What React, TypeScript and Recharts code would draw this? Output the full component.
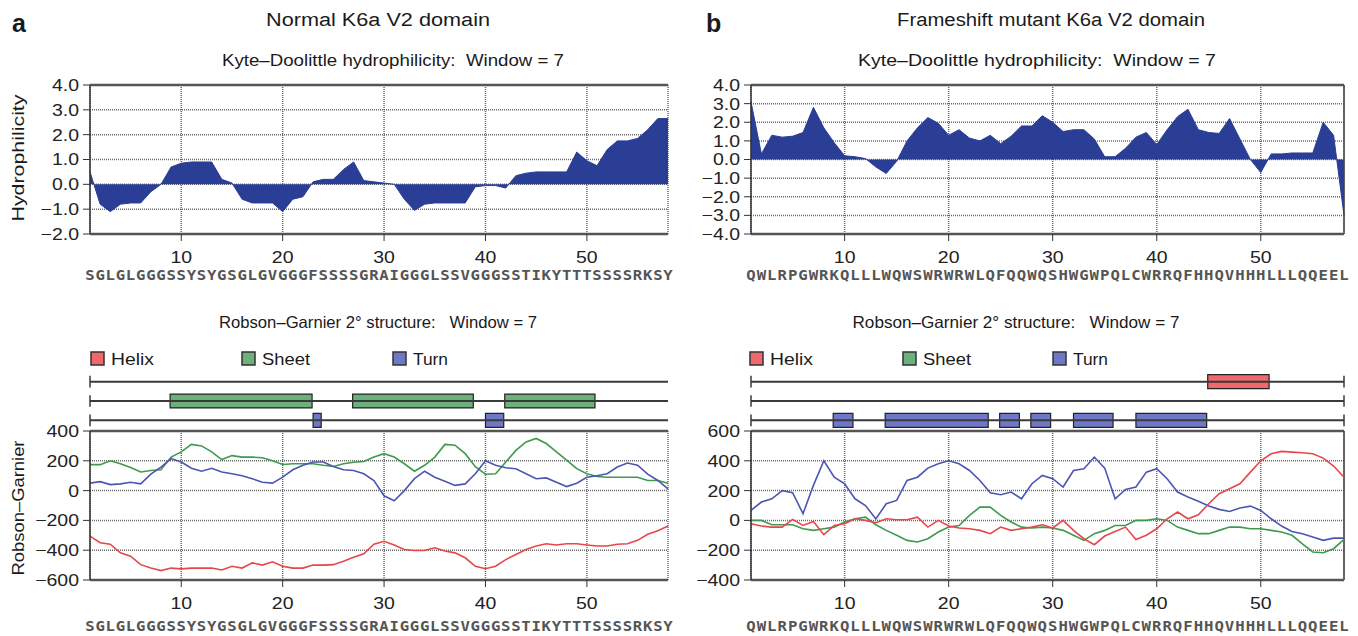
import React from "react";
import {
  AreaChart, Area, LineChart, Line, ComposedChart,
  XAxis, YAxis, CartesianGrid, ReferenceLine, ReferenceArea,
} from "recharts";

const residues = Array.from({ length: 58 }, (_, i) => i + 1);
const positionTicks = [10, 20, 30, 40, 50];

const normalSeq = "SGLGLGGGSSYSYGSGLGVGGGFSSSSGRAIGGGLSSVGGGSSTIKYTTTSSSSRKSY";
const mutantSeq = "QWLRPGWRKQLLLWQWSWRWRWLQFQQWQSHWGWPQLCWRRQFHHQVHHHLLLQQEEL";

// Kyte-Doolittle hydrophilicity, one value per residue
const normalHydro = [0.5, -0.8, -1.1, -0.8, -0.75, -0.75, -0.3, 0.0, 0.7, 0.85, 0.9, 0.9, 0.9, 0.2, 0.05, -0.6, -0.75, -0.75, -0.75, -1.1, -0.6, -0.5, 0.1, 0.2, 0.2, 0.6, 0.9, 0.15, 0.1, 0.05, 0, -0.6, -1.05, -0.8, -0.75, -0.75, -0.75, -0.75, -0.1, -0.05, -0.05, -0.15, 0.35, 0.45, 0.5, 0.5, 0.5, 0.5, 1.3, 0.95, 0.75, 1.4, 1.75, 1.75, 1.85, 2.2, 2.65, 2.65];
const mutantHydro = [3.1, 0.3, 1.3, 1.2, 1.25, 1.45, 2.8, 1.7, 0.9, 0.2, 0.15, 0.05, -0.4, -0.75, -0.1, 1.0, 1.7, 2.25, 1.95, 1.3, 1.6, 1.15, 1.0, 1.3, 0.85, 1.25, 1.8, 1.8, 2.35, 2.0, 1.5, 1.6, 1.6, 1.1, 0.15, 0.15, 0.6, 1.2, 1.45, 0.8, 1.6, 2.3, 2.7, 1.6, 1.45, 1.4, 2.2, 1.1, 0.0, -0.7, 0.3, 0.3, 0.35, 0.35, 0.35, 2.0, 1.3, -3.0];

// Robson-Garnier scores
const normalHelix = [-305, -350, -360, -418, -440, -497, -520, -537, -520, -525, -520, -520, -520, -533, -508, -520, -485, -500, -478, -508, -520, -520, -500, -500, -497, -474, -447, -424, -360, -340, -365, -395, -402, -402, -384, -406, -418, -451, -508, -524, -508, -463, -429, -395, -372, -357, -365, -357, -357, -365, -372, -372, -360, -357, -334, -293, -270, -237];
const normalSheet = [174, 174, 200, 180, 155, 125, 135, 140, 225, 260, 310, 300, 260, 208, 235, 225, 225, 220, 200, 175, 180, 180, 180, 170, 162, 180, 190, 195, 225, 248, 225, 180, 130, 170, 225, 310, 305, 248, 160, 110, 113, 192, 270, 327, 350, 316, 260, 205, 147, 113, 95, 90, 90, 90, 90, 68, 68, 50];
const normalTurn = [50, 60, 40, 45, 56, 45, 110, 158, 215, 192, 150, 130, 150, 125, 113, 100, 80, 56, 50, 90, 140, 170, 192, 192, 162, 140, 135, 113, 68, -35, -68, 0, 80, 130, 90, 63, 35, 45, 113, 200, 170, 153, 147, 113, 80, 85, 56, 27, 50, 90, 100, 113, 158, 185, 170, 110, 68, 12];
const mutantHelix = [-22, -38, -45, -45, 7, -34, -7, -96, -34, -22, 11, 0, -16, 11, 4, 4, 22, -45, 0, -38, -51, -56, -67, -89, -45, -67, -56, -45, -29, -51, 0, -67, -123, -163, -105, -74, -45, -128, -100, -56, 11, 56, 11, 38, 112, 179, 212, 246, 324, 400, 447, 463, 458, 454, 447, 418, 365, 290];
const mutantSheet = [0, 0, -29, -29, -29, -56, -67, -56, -45, -11, 11, 22, -29, -67, -100, -134, -145, -123, -78, -45, -34, 34, 89, 89, 34, -11, -45, -51, -45, -51, -67, -100, -134, -89, -67, -34, -34, 0, 0, 11, 0, -45, -67, -89, -89, -67, -45, -45, -56, -56, -67, -78, -100, -157, -212, -217, -190, -128];
const mutantTurn = [67, 123, 145, 200, 186, 45, 235, 400, 290, 246, 145, 100, 10, 112, 134, 268, 290, 351, 380, 400, 380, 335, 268, 186, 172, 190, 145, 246, 302, 280, 224, 335, 347, 425, 351, 145, 208, 224, 324, 347, 280, 190, 157, 128, 96, 74, 60, 83, 96, 67, 11, -38, -74, -89, -112, -134, -119, -119];

// predicted structure segments [from, to] in residue units
const normalHelixSegs: number[][] = [];
const normalSheetSegs = [[8.9, 22.9], [26.9, 38.8], [41.9, 50.8]];
const normalTurnSegs = [[23, 23.8], [40, 41.8]];
const mutantHelixSegs = [[44.9, 50.8]];
const mutantSheetSegs: number[][] = [];
const mutantTurnSegs = [[8.9, 10.8], [13.9, 23.8], [24.9, 26.8], [27.9, 29.8], [32, 35.8], [38, 44.8]];

const hydroTicksNormal = [-2, -1, 0, 1, 2, 3, 4];
const hydroTicksMutant = [-4, -3, -2, -1, 0, 1, 2, 3, 4];
const rgTicksNormal = [-600, -400, -200, 0, 200, 400];
const rgTicksMutant = [-400, -200, 0, 200, 400, 600];

const FONT = "'Liberation Sans', Arial, Helvetica, sans-serif";
const SX = 1.18;
const AREA = "#2b3e96";
const RED = "#e5474c";
const GREEN = "#3d9a4e";
const BLUE = "#4c56b2";
const HELIX_FILL = "#f0686b";
const SHEET_FILL = "#6cb07c";
const TURN_FILL = "#6f78c8";

const minus = (s: string) => s.replace("-", "\u2212");
const fmt1 = (v: number) => minus(v.toFixed(1));
const fmt0 = (v: number) => minus(String(v));

const YTick = (props: any) => {
  const { x, y, payload, fmt } = props;
  return (
    <g transform={`translate(${x},${y}) scale(${SX},1)`}>
      <text x={0} y={0} dy="0.36em" textAnchor="end" fontSize={16.5} fontFamily={FONT} fill="#222">
        {fmt(payload.value)}
      </text>
    </g>
  );
};

const XTick = (props: any) => {
  const { x, y, payload } = props;
  return (
    <g transform={`translate(${x},${y}) scale(${SX},1)`}>
      <text x={0} y={0} dy="0.71em" textAnchor="middle" fontSize={16.5} fontFamily={FONT} fill="#222">
        {payload.value}
      </text>
    </g>
  );
};

const SeqTick = (props: any) => {
  const { x, y, payload, seq } = props;
  return (
    <g transform={`translate(${x},${y}) scale(1.12,1)`}>
      <text x={0} y={0} dy="0.72em" textAnchor="middle" fontSize={14} fontWeight="bold"
        fontFamily="'DejaVu Sans Mono', monospace" fill="#555">
        {seq[payload.value - 1]}
      </text>
    </g>
  );
};

type PanelProps = {
  left: number;
  width: number;
  yWidth: number;
  marginRight: number;
  seq: string;
  boxed: boolean;
};

function Axes({ seq, yWidth, domain, ticks, fmt, seqMargin }: any) {
  return [
    <CartesianGrid key="g" stroke="#686868" strokeDasharray="1 1" strokeWidth={1.5} />,
    <XAxis key="x" dataKey="pos" type="number" domain={[1, 58]} ticks={positionTicks} height={30}
      tickSize={7} tickMargin={10} axisLine={{ stroke: "#555", strokeWidth: 2.5 }}
      tickLine={{ stroke: "#333" }} tick={(p: any) => <XTick {...p} />} />,
    <XAxis key="s" xAxisId="seq" dataKey="pos" type="number" domain={[1, 58]} allowDataOverflow
      ticks={residues} interval={0} height={24} tickSize={0} tickMargin={seqMargin}
      axisLine={false} tickLine={false} tick={(p: any) => <SeqTick {...p} seq={seq} />} />,
    <YAxis key="y" type="number" domain={domain} ticks={ticks} width={yWidth} interval={0}
      tickSize={7} tickMargin={4} axisLine={{ stroke: "#333", strokeWidth: 1.5 }}
      tickLine={{ stroke: "#333" }} tick={(p: any) => <YTick {...p} fmt={fmt} />} />,
    <ReferenceLine key="t" y={domain[1]} stroke="#555" strokeWidth={2.5} />,
  ];
}

function HydroChart({ p, values, domain, ticks }: { p: PanelProps; values: number[]; domain: number[]; ticks: number[] }) {
  const rows = residues.map((r, i) => ({ pos: r, value: values[i] }));
  return (
    <div style={{ position: "absolute", left: p.left, top: 75 }}>
      <AreaChart width={p.width} height={213} data={rows} margin={{ top: 10, right: p.marginRight, bottom: 0, left: 0 }}>
        {Axes({ seq: p.seq, yWidth: p.yWidth, domain, ticks, fmt: fmt1, seqMargin: 6 })}
        {p.boxed && <ReferenceLine x={58} stroke="#444" strokeWidth={1.5} />}
        <Area dataKey="value" type="linear" stroke={AREA} strokeWidth={1} fill={AREA} fillOpacity={1}
          baseValue={0} dot={false} activeDot={false} isAnimationActive={false} />
      </AreaChart>
    </div>
  );
}

function RGChart({ p, helix, sheet, turn, domain, ticks }: any) {
  const rows = residues.map((r, i) => ({ pos: r, helix: helix[i], sheet: sheet[i], turn: turn[i] }));
  return (
    <div style={{ position: "absolute", left: p.left, top: 421 }}>
      <LineChart width={p.width} height={213} data={rows} margin={{ top: 10, right: p.marginRight, bottom: 0, left: 0 }}>
        {Axes({ seq: p.seq, yWidth: p.yWidth, domain, ticks, fmt: fmt0, seqMargin: 11 })}
        {p.boxed && <ReferenceLine x={58} stroke="#444" strokeWidth={1.5} />}
        <Line dataKey="sheet" type="linear" stroke={GREEN} strokeWidth={1.6} dot={false} activeDot={false} isAnimationActive={false} />
        <Line dataKey="turn" type="linear" stroke={BLUE} strokeWidth={1.6} dot={false} activeDot={false} isAnimationActive={false} />
        <Line dataKey="helix" type="linear" stroke={RED} strokeWidth={1.6} dot={false} activeDot={false} isAnimationActive={false} />
      </LineChart>
    </div>
  );
}

function TrackChart({ p, helixSegs, sheetSegs, turnSegs }: any) {
  const tracks = [
    { y: 2.5, segs: helixSegs, fill: HELIX_FILL },
    { y: 1.5, segs: sheetSegs, fill: SHEET_FILL },
    { y: 0.5, segs: turnSegs, fill: TURN_FILL },
  ];
  const rows = residues.map((r) => ({ pos: r }));
  return (
    <div style={{ position: "absolute", left: p.left, top: 362 }}>
      <ComposedChart width={p.width} height={78} data={rows}
        margin={{ top: 10, right: p.marginRight, bottom: 10, left: p.yWidth }}>
        <XAxis dataKey="pos" type="number" domain={[1, 58]} allowDataOverflow hide />
        <YAxis type="number" domain={[0, 3]} allowDataOverflow hide />
        {tracks.map((t) => (
          <ReferenceLine key={`l${t.y}`} y={t.y} stroke="#3a3a3a" strokeWidth={2} ifOverflow="visible" />
        ))}
        {tracks.map((t) => (
          <ReferenceLine key={`c${t.y}`} segment={[{ x: 1, y: t.y - 0.3 }, { x: 1, y: t.y + 0.3 }]}
            stroke="#3a3a3a" strokeWidth={1.5} ifOverflow="visible" />
        ))}
        {p.boxed && tracks.map((t) => (
          <ReferenceLine key={`r${t.y}`} segment={[{ x: 58, y: t.y - 0.3 }, { x: 58, y: t.y + 0.3 }]}
            stroke="#3a3a3a" strokeWidth={1.5} ifOverflow="visible" />
        ))}
        {tracks.flatMap((t) => t.segs.map((s: number[], i: number) => (
          <ReferenceArea key={`a${t.y}-${i}`} x1={s[0]} x2={s[1]} y1={t.y - 0.36} y2={t.y + 0.36}
            fill={t.fill} fillOpacity={1} stroke="#222" strokeWidth={1.2} ifOverflow="visible" />
        )))}
      </ComposedChart>
    </div>
  );
}

const leftPanel: PanelProps = { left: 0, width: 680, yWidth: 90, marginRight: 12, seq: normalSeq, boxed: false };
const rightPanel: PanelProps = { left: 680, width: 678, yWidth: 71, marginRight: 14, seq: mutantSeq, boxed: true };

function T({ x, y, len, size = 16.5, children, anchor = "middle", rotate = false, bold = false }: any) {
  return (
    <text x={x} y={y} textAnchor={anchor} fontSize={size} fontFamily={FONT} fill="#1a1a1a"
      fontWeight={bold ? "bold" : "normal"} textLength={len} lengthAdjust="spacingAndGlyphs"
      style={{ whiteSpace: "pre" }} transform={rotate ? `rotate(-90 ${x} ${y})` : undefined}>
      {children}
    </text>
  );
}

function LegendItems({ xs }: { xs: number[] }) {
  const items = [
    { name: "Helix", fill: HELIX_FILL, len: 43 },
    { name: "Sheet", fill: SHEET_FILL, len: 48 },
    { name: "Turn", fill: TURN_FILL, len: 35 },
  ];
  return (
    <g>
      {items.map((it, i) => (
        <g key={it.name}>
          <rect x={xs[i]} y={352} width={13} height={13} fill={it.fill} stroke="#333" strokeWidth={1.5} />
          <T x={xs[i] + 20} y={365} len={it.len} size={17} anchor="start">{it.name}</T>
        </g>
      ))}
    </g>
  );
}

export default function App() {
  return (
    <div style={{ position: "absolute", left: 0, top: 0, width: 1358, height: 636, background: "#fff", overflow: "hidden" }}>
      <svg width={1358} height={636} style={{ position: "absolute", left: 0, top: 0 }}>
        <T x={12} y={32} size={25} bold anchor="start">a</T>
        <T x={706} y={32} size={25} bold anchor="start">b</T>
        <T x={378} y={26} len={224} size={18}>Normal K6a V2 domain</T>
        <T x={1051} y={26} len={308} size={18}>Frameshift mutant K6a V2 domain</T>
        <T x={393} y={66} len={342}>{"Kyte\u2013Doolittle hydrophilicity:  Window = 7"}</T>
        <T x={1037} y={66} len={358}>{"Kyte\u2013Doolittle hydrophilicity:  Window = 7"}</T>
        <T x={378} y={328} len={318}>{"Robson\u2013Garnier 2\u00b0 structure:   Window = 7"}</T>
        <T x={1016} y={328} len={327}>{"Robson\u2013Garnier 2\u00b0 structure:   Window = 7"}</T>
        <T x={24} y={158} len={127} rotate>Hydrophilicity</T>
        <T x={24} y={508} len={135} rotate>{"Robson\u2013Garnier"}</T>
        <LegendItems xs={[91, 242, 393]} />
        <LegendItems xs={[750, 903, 1053]} />
      </svg>
      <HydroChart p={leftPanel} values={normalHydro} domain={[-2, 4]} ticks={hydroTicksNormal} />
      <HydroChart p={rightPanel} values={mutantHydro} domain={[-4, 4]} ticks={hydroTicksMutant} />
      <TrackChart p={leftPanel} helixSegs={normalHelixSegs} sheetSegs={normalSheetSegs} turnSegs={normalTurnSegs} />
      <TrackChart p={rightPanel} helixSegs={mutantHelixSegs} sheetSegs={mutantSheetSegs} turnSegs={mutantTurnSegs} />
      <RGChart p={leftPanel} helix={normalHelix} sheet={normalSheet} turn={normalTurn} domain={[-600, 400]} ticks={rgTicksNormal} />
      <RGChart p={rightPanel} helix={mutantHelix} sheet={mutantSheet} turn={mutantTurn} domain={[-400, 600]} ticks={rgTicksMutant} />
    </div>
  );
}
